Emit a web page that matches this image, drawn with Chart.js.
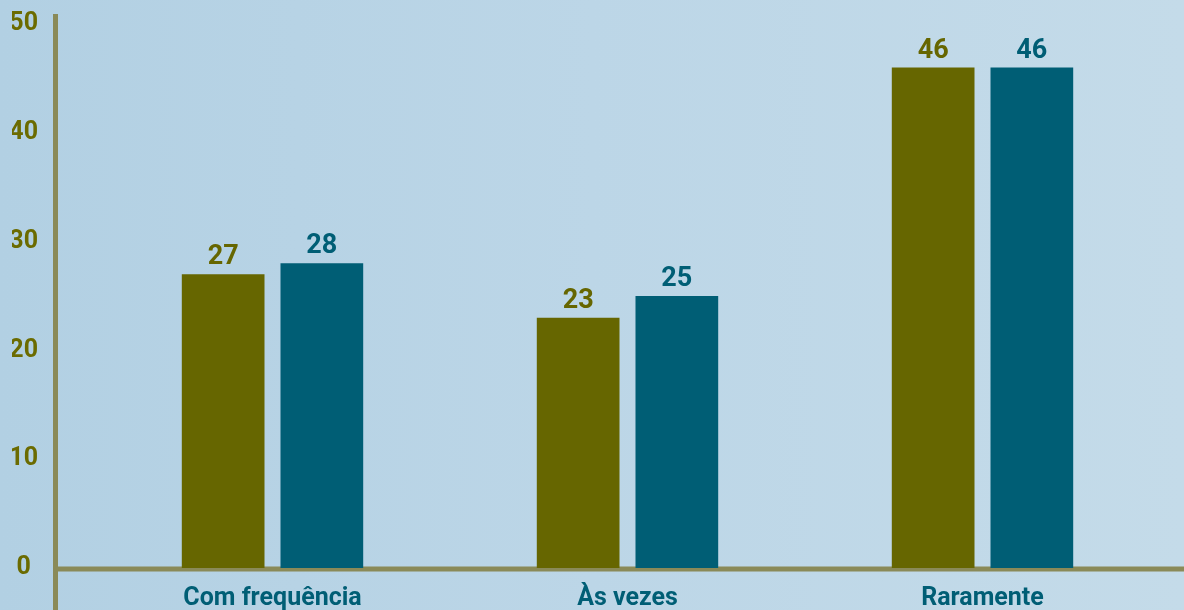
<!DOCTYPE html>
<html>
<head>
<meta charset="utf-8">
<script src="https://cdn.jsdelivr.net/npm/chart.js@4"></script>
<style>
  html, body { margin: 0; padding: 0; }
  body {
    width: 1184px; height: 610px; overflow: hidden;
    background: linear-gradient(to right, #b2d0e3 0%, #bcd6e7 50%, #c4dbe9 100%);
  }
  #wrap { position: relative; width: 1184px; height: 610px; }
</style>
</head>
<body>
<div id="wrap"><canvas id="barChart"></canvas></div>
<script>
var categories = ["Com frequência", "Às vezes", "Raramente"];
var serieA = [27, 23, 46];
var serieB = [28, 25, 46];
var yTicks = [0, 10, 20, 30, 40, 50];

var olive = "#666600";
var teal = "#005e75";
var axisColor = "#8a8a58";

// axis lines drawn by hand so they run past the plot area
var axisLines = {
  id: 'axisLines',
  beforeDatasetsDraw: function(chart) {
    var ctx = chart.ctx;
    var zeroY = chart.scales.y.getPixelForValue(0);
    ctx.save();
    ctx.strokeStyle = axisColor;
    ctx.lineWidth = 5;
    ctx.beginPath();
    ctx.moveTo(55.5, 14);
    ctx.lineTo(55.5, chart.height);
    ctx.moveTo(53, zeroY + 1);
    ctx.lineTo(chart.width, zeroY + 1);
    ctx.stroke();
    ctx.restore();
  }
};

// value labels over each bar
var barValues = {
  id: 'barValues',
  afterDatasetsDraw: function(chart) {
    var ctx = chart.ctx;
    ctx.save();
    ctx.font = "bold 27px Roboto";
    ctx.textAlign = "center";
    ctx.textBaseline = "alphabetic";
    chart.data.datasets.forEach(function(ds, i) {
      var meta = chart.getDatasetMeta(i);
      ctx.fillStyle = ds.backgroundColor;
      meta.data.forEach(function(bar, j) {
        ctx.fillText(ds.data[j], bar.x, bar.y - 10);
      });
    });
    ctx.restore();
  }
};

var barConfig = {
  type: 'bar',
  data: {
    labels: categories,
    datasets: [{
      data: serieA,
      backgroundColor: olive,
      categoryPercentage: 0.556,
      barPercentage: 0.838
    }, {
      data: serieB,
      backgroundColor: teal,
      categoryPercentage: 0.556,
      barPercentage: 0.838
    }]
  },
  plugins: [axisLines, barValues],
  options: {
    responsive: true,
    maintainAspectRatio: false,
    animation: false,
    layout: { padding: { left: 12, right: 24, top: 24, bottom: 0 } },
    plugins: {
      legend: { display: false },
      tooltip: { enabled: false }
    },
    scales: {
      x: {
        grid: { display: false, drawTicks: false },
        border: { display: false },
        ticks: {
          color: teal,
          padding: 16,
          font: { family: "Roboto", weight: "bold", size: 25 }
        },
        afterFit: function(scale) { scale.height = 42; }
      },
      y: {
        min: 0,
        max: 50,
        afterBuildTicks: function(scale) {
          scale.ticks = yTicks.map(function(v) { return { value: v }; });
        },
        grid: { display: false, drawTicks: false },
        border: { display: false },
        ticks: {
          color: "#6b6b00",
          padding: 57,
          crossAlign: "center",
          font: { family: "Roboto", weight: "bold", size: 25 }
        },
        afterFit: function(scale) {
          scale.width = 83;
          // tick padding is only meant horizontally here
          scale.paddingTop = 0;
          scale.paddingBottom = 0;
        }
      }
    }
  }
};

var barChart = new Chart(document.getElementById("barChart"), barConfig);
</script>
</body>
</html>
